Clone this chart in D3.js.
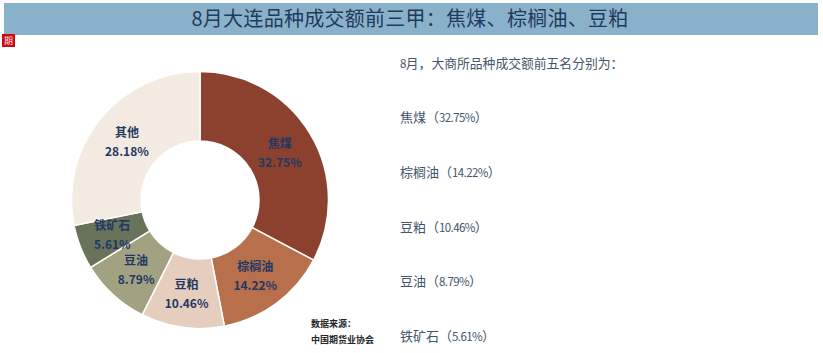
<!DOCTYPE html>
<html>
<head>
<meta charset="utf-8">
<script src="https://cdn.jsdelivr.net/npm/d3@7"></script>
<style>
    body { margin: 0; background: #fff; }
    svg { display: block; }
    text { font-family: "Noto Sans CJK SC", "Noto Sans", sans-serif; }
    tspan.num { font-size: 11.5px; letter-spacing: -0.6px; }
</style>
</head>
<body>
<script>
//Chart data
const categories = ["焦煤", "棕榈油", "豆粕", "豆油", "铁矿石", "其他"];
const shares = [32.75, 14.22, 10.46, 8.79, 5.61, 28.18];
const sliceColors = ["#8c412e", "#b86f4c", "#e5cebd", "#a2a283", "#68735a", "#f3eae2"];
const titleText = "8月大连品种成交额前三甲：焦煤、棕榈油、豆粕";
const introText = "8月，大商所品种成交额前五名分别为：";
const topFive = ["焦煤（32.75%）", "棕榈油（14.22%）", "豆粕（10.46%）", "豆油（8.79%）", "铁矿石（5.61%）"];
const sourceLines = ["数据来源：", "中国期货业协会"];

function main() {
    const width = 823, height = 353;
    const cx = 200, cy = 200, outerR = 128.5, innerR = 59;

    let svg = d3.select("body").append("svg")
        .attr("width", width)
        .attr("height", height);

    // title band
    svg.append("rect")
        .attr("x", 4).attr("y", 3)
        .attr("width", 814).attr("height", 32)
        .attr("fill", "#8ab1ca");
    svg.append("text")
        .attr("x", 410).attr("y", 26)
        .attr("text-anchor", "middle")
        .attr("font-size", 20)
        .attr("letter-spacing", 0.27)
        .attr("fill", "#1f3a5f")
        .text(titleText);

    // small red logo
    svg.append("rect")
        .attr("x", 2).attr("y", 34)
        .attr("width", 13).attr("height", 13)
        .attr("fill", "#cc0a14");
    svg.append("text")
        .attr("x", 8.5).attr("y", 44)
        .attr("text-anchor", "middle")
        .attr("font-size", 9)
        .attr("fill", "#fbe3e3")
        .text("期");

    // donut
    let pie = d3.pie().sort(null).value(function(d) { return d; });
    let arc = d3.arc().innerRadius(innerR).outerRadius(outerR);
    let color = d3.scaleOrdinal().domain(categories).range(sliceColors);
    let slices = pie(shares);

    let donut = svg.append("g")
        .attr("transform", "translate(" + cx + "," + cy + ")");

    donut.selectAll("path")
        .data(slices)
        .enter().append("path")
        .attr("d", arc)
        .attr("fill", function(d, i) { return color(categories[i]); })
        .attr("stroke", "#fff")
        .attr("stroke-width", 1.5);

    let labels = donut.selectAll("g.label")
        .data(slices)
        .enter().append("g")
        .attr("class", "label")
        .attr("transform", function(d) { return "translate(" + arc.centroid(d) + ")"; })
        .attr("text-anchor", "middle")
        .attr("font-size", 12)
        .attr("font-weight", 700)
        .attr("fill", "#1f3864");

    labels.append("text")
        .attr("y", -4)
        .attr("x", -0.5)
        .text(function(d, i) { return categories[i]; });
    labels.append("text")
        .attr("y", 15)
        .attr("x", -0.5)
        .text(function(d) { return d.value.toFixed(2) + "%"; });

    // right hand list
    let intro = svg.append("text")
        .attr("x", 400).attr("y", 68)
        .attr("font-size", 12.8)
        .attr("fill", "#44546a");
    addMixedText(intro, introText);

    let rowY = d3.scalePoint().domain(topFive).range([122, 341]);
    svg.selectAll("text.row")
        .data(topFive)
        .enter().append("text")
        .attr("class", "row")
        .attr("x", 400)
        .attr("y", function(d) { return rowY(d); })
        .attr("font-size", 13)
        .attr("fill", "#44546a")
        .each(function(d) { addMixedText(d3.select(this), d); });

    // source note
    svg.selectAll("text.source")
        .data(sourceLines)
        .enter().append("text")
        .attr("class", "source")
        .attr("x", 311)
        .attr("y", function(d, i) { return 327 + i * 16; })
        .attr("font-size", 9)
        .attr("font-weight", 700)
        .attr("fill", "#262626")
        .text(function(d) { return d; });
}

// digits are narrower than the CJK text in the reference
function addMixedText(node, str) {
    str.match(/[0-9.%]+|[^0-9.%]+/g).forEach(function(part) {
        let span = node.append("tspan").text(part);
        if (/^[0-9.%]/.test(part)) {
            span.attr("class", "num");
        }
    });
}

main();
</script>
</body>
</html>
